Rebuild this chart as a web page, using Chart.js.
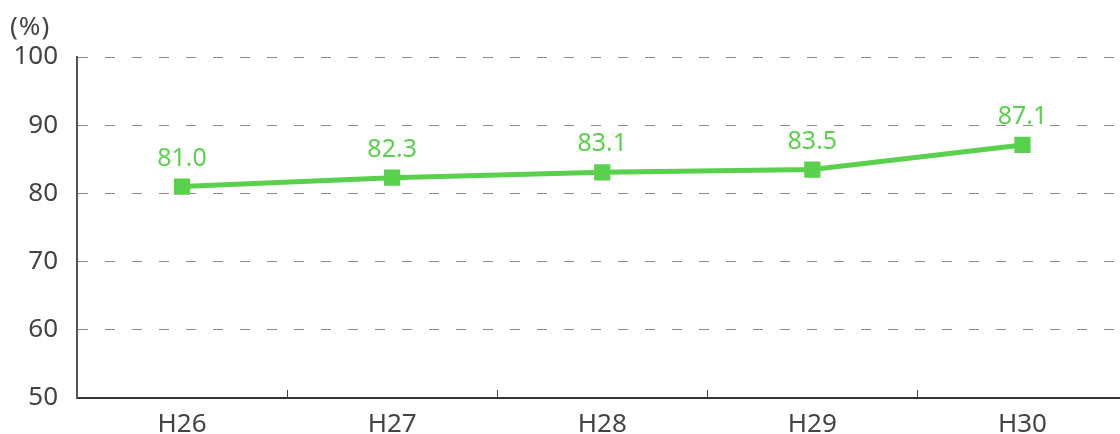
<!DOCTYPE html>
<html>
<head>
<meta charset="utf-8">
<script src="https://cdn.jsdelivr.net/npm/chart.js@4.4.1/dist/chart.umd.min.js"></script>
<style>
  html, body { margin: 0; padding: 0; background: #fff; overflow: hidden; }
  #wrap { position: relative; width: 1120px; height: 434px; overflow: hidden; }
  #unit { position: absolute; left: 10px; top: 7px; font: 26px "Noto Sans", sans-serif; letter-spacing: 1px; color: #444; }
</style>
</head>
<body>
<div id="wrap">
  <canvas id="line-chart" width="1139" height="434"></canvas>
  <div id="unit">(%)</div>
</div>
<script>
const years = ["H26", "H27", "H28", "H29", "H30"];
const rates = [81.0, 82.3, 83.1, 83.5, 87.1];
const yTicks = [50, 60, 70, 80, 90, 100];

const green = "#5ad14d";
const fontFamily = '"Noto Sans", sans-serif';

// value labels above each point
const valueLabels = {
  id: "valueLabels",
  afterDatasetsDraw(chart) {
    const ctx = chart.ctx;
    const meta = chart.getDatasetMeta(0);
    ctx.save();
    ctx.fillStyle = green;
    ctx.font = "25px " + fontFamily;
    ctx.textAlign = "center";
    ctx.textBaseline = "alphabetic";
    meta.data.forEach((pt, i) => {
      ctx.fillText(rates[i].toFixed(1), pt.x, pt.y - 21);
    });
    ctx.restore();
  },
};

// short tick marks pointing up from the x axis, between categories
const innerTicks = {
  id: "innerTicks",
  afterDraw(chart) {
    const ctx = chart.ctx;
    const x = chart.scales.x;
    const bottom = chart.chartArea.bottom;
    ctx.save();
    ctx.strokeStyle = "#444";
    ctx.lineWidth = 1;
    for (let i = 0; i < years.length - 1; i++) {
      const px = Math.round(x.getPixelForValue(i + 0.5)) + 0.5;
      ctx.beginPath();
      ctx.moveTo(px, bottom);
      ctx.lineTo(px, bottom - 8);
      ctx.stroke();
    }
    ctx.restore();
  },
};

const lineChart = new Chart(document.getElementById("line-chart"), {
  type: "line",
  data: {
    labels: years,
    datasets: [
      {
        data: rates,
        borderColor: green,
        backgroundColor: green,
        borderWidth: 5,
        pointStyle: "rect",
        pointRadius: 11.5,
        pointHoverRadius: 11.5,
        pointBorderWidth: 0,
        tension: 0,
      },
    ],
  },
  options: {
    responsive: false,
    animation: false,
    layout: { padding: { top: 57, right: 0, left: 0, bottom: 0 } },
    plugins: {
      legend: { display: false },
      tooltip: { enabled: false },
    },
    scales: {
      x: {
        offset: true,
        grid: { display: false },
        border: { display: true, color: "#333", width: 2 },
        ticks: {
          color: "#444",
          padding: 3,
          font: { family: fontFamily, size: 26 },
        },
        afterFit(scale) {
          scale.height = 36;
        },
      },
      y: {
        min: 50,
        max: 100,
        afterBuildTicks(scale) {
          scale.ticks = yTicks.map((v) => ({ value: v }));
        },
        grid: {
          color: (c) => (c.tick && c.tick.value === 50 ? "rgba(0,0,0,0)" : "#8a8a8a"),
          lineWidth: 1,
          drawTicks: false,
        },
        border: { display: true, color: "#555", width: 2, dash: [10, 17] },
        ticks: {
          color: "#444",
          padding: 19,
          font: { family: fontFamily, size: 26 },
        },
        afterFit(scale) {
          scale.width = 77;
        },
      },
    },
  },
  plugins: [valueLabels, innerTicks],
});
</script>
</body>
</html>
